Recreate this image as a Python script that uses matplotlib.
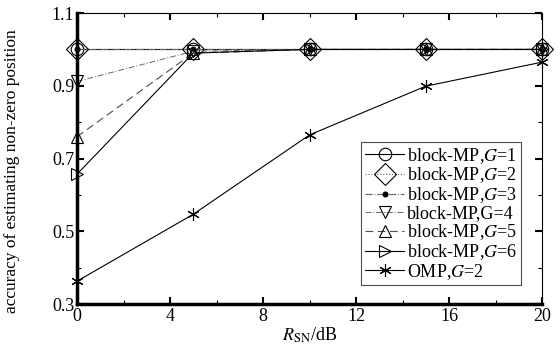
import numpy as np
import matplotlib
matplotlib.use('Agg')
from matplotlib import pyplot as plt
from matplotlib.ticker import MultipleLocator, FixedLocator, FormatStrFormatter

snr = [0, 5, 10, 15, 20]
g1 = [1.0, 1.0, 1.0, 1.0, 1.0]
g2 = [1.0, 1.0, 1.0, 1.0, 1.0]
g3 = [1.0, 1.0, 1.0, 1.0, 1.0]
g4 = [0.912, 0.995, 1.0, 1.0, 1.0]
g5 = [0.76, 0.99, 1.0, 1.0, 1.0]
g6 = [0.657, 0.99, 1.0, 1.0, 1.0]
omp = [0.363, 0.547, 0.765, 0.899, 0.965]

labels = [r'block-MP,$G$=1', r'block-MP,$G$=2', r'block-MP,$G$=3',
          'block-MP,G=4', r'block-MP,$G$=5', r'block-MP,$G$=6', r'OMP,$G$=2']
yticks = [0.3, 0.5, 0.7, 0.9, 1.1]
yminor = [0.4, 0.6, 0.8, 1.0]

plt.rcParams['font.family'] = 'Liberation Serif'
plt.rcParams['mathtext.fontset'] = 'stix'

fig = plt.figure(figsize=(5.6, 3.52), dpi=100)
ax = fig.add_axes([0.1375, 0.136, 0.8305, 0.827])

common = dict(mec='k', mew=0.8, clip_on=False)
ax.plot(snr, g1, '-', color='k', lw=0.8, marker='o', ms=9, mfc='none', label=labels[0], **common)
ax.plot(snr, g2, ':', color='0.4', lw=0.8, marker='D', ms=11, mfc='none', label=labels[1], **common)
ax.plot(snr, g3, '-.', color='0.4', lw=0.8, marker='o', ms=3.5, mfc='k', label=labels[2], **common)
ax.plot(snr, g4, '-.', color='0.4', lw=0.7, dashes=(6, 2, 1, 2), marker='v', ms=9, mfc='none', label=labels[3], **common)
ax.plot(snr, g5, '--', color='0.3', lw=0.8, dashes=(7, 4), marker='^', ms=9, mfc='none', label=labels[4], **common)
ax.plot(snr, g6, '-', color='k', lw=0.8, marker='>', ms=9, mfc='none', label=labels[5], **common)
ax.plot(snr, omp, '-', color='k', lw=0.8, marker=(6, 2, 0), ms=9, label=labels[6], **common)

ax.set_xlim(0, 20)
ax.set_ylim(0.3, 1.1)
ax.xaxis.set_major_locator(MultipleLocator(4))
ax.xaxis.set_minor_locator(MultipleLocator(2))
ax.yaxis.set_major_locator(FixedLocator(yticks))
ax.yaxis.set_minor_locator(FixedLocator(yminor))
ax.yaxis.set_major_formatter(FormatStrFormatter('%.1f'))
ax.tick_params(which='both', direction='in', top=True, right=True, labelsize=13)
ax.tick_params(which='major', length=5, width=1.5)
ax.tick_params(which='minor', length=3, width=0.8)
ax.tick_params(axis='x', pad=3)
ax.tick_params(axis='y', pad=2)

ax.spines['left'].set_linewidth(2.5)
ax.spines['bottom'].set_linewidth(2.5)
ax.spines['right'].set_linewidth(0.8)
ax.spines['top'].set_linewidth(0.8)

ax.set_xlabel(r'$R_{\mathrm{SN}}$/dB', fontsize=13, labelpad=0)
ax.set_ylabel('accuracy of estimating non-zero position', fontsize=12.5)
ax.yaxis.set_label_coords(-0.122, 0.457)

leg = ax.legend(loc='lower left', bbox_to_anchor=(0.611, 0.065), fontsize=13,
                handlelength=2.2, handletextpad=0.15, borderpad=0.2, labelspacing=0.0,
                fancybox=False, framealpha=1, edgecolor='0.3', borderaxespad=0)
leg.get_frame().set_linewidth(0.8)

fig.savefig('out.png', dpi=100)
